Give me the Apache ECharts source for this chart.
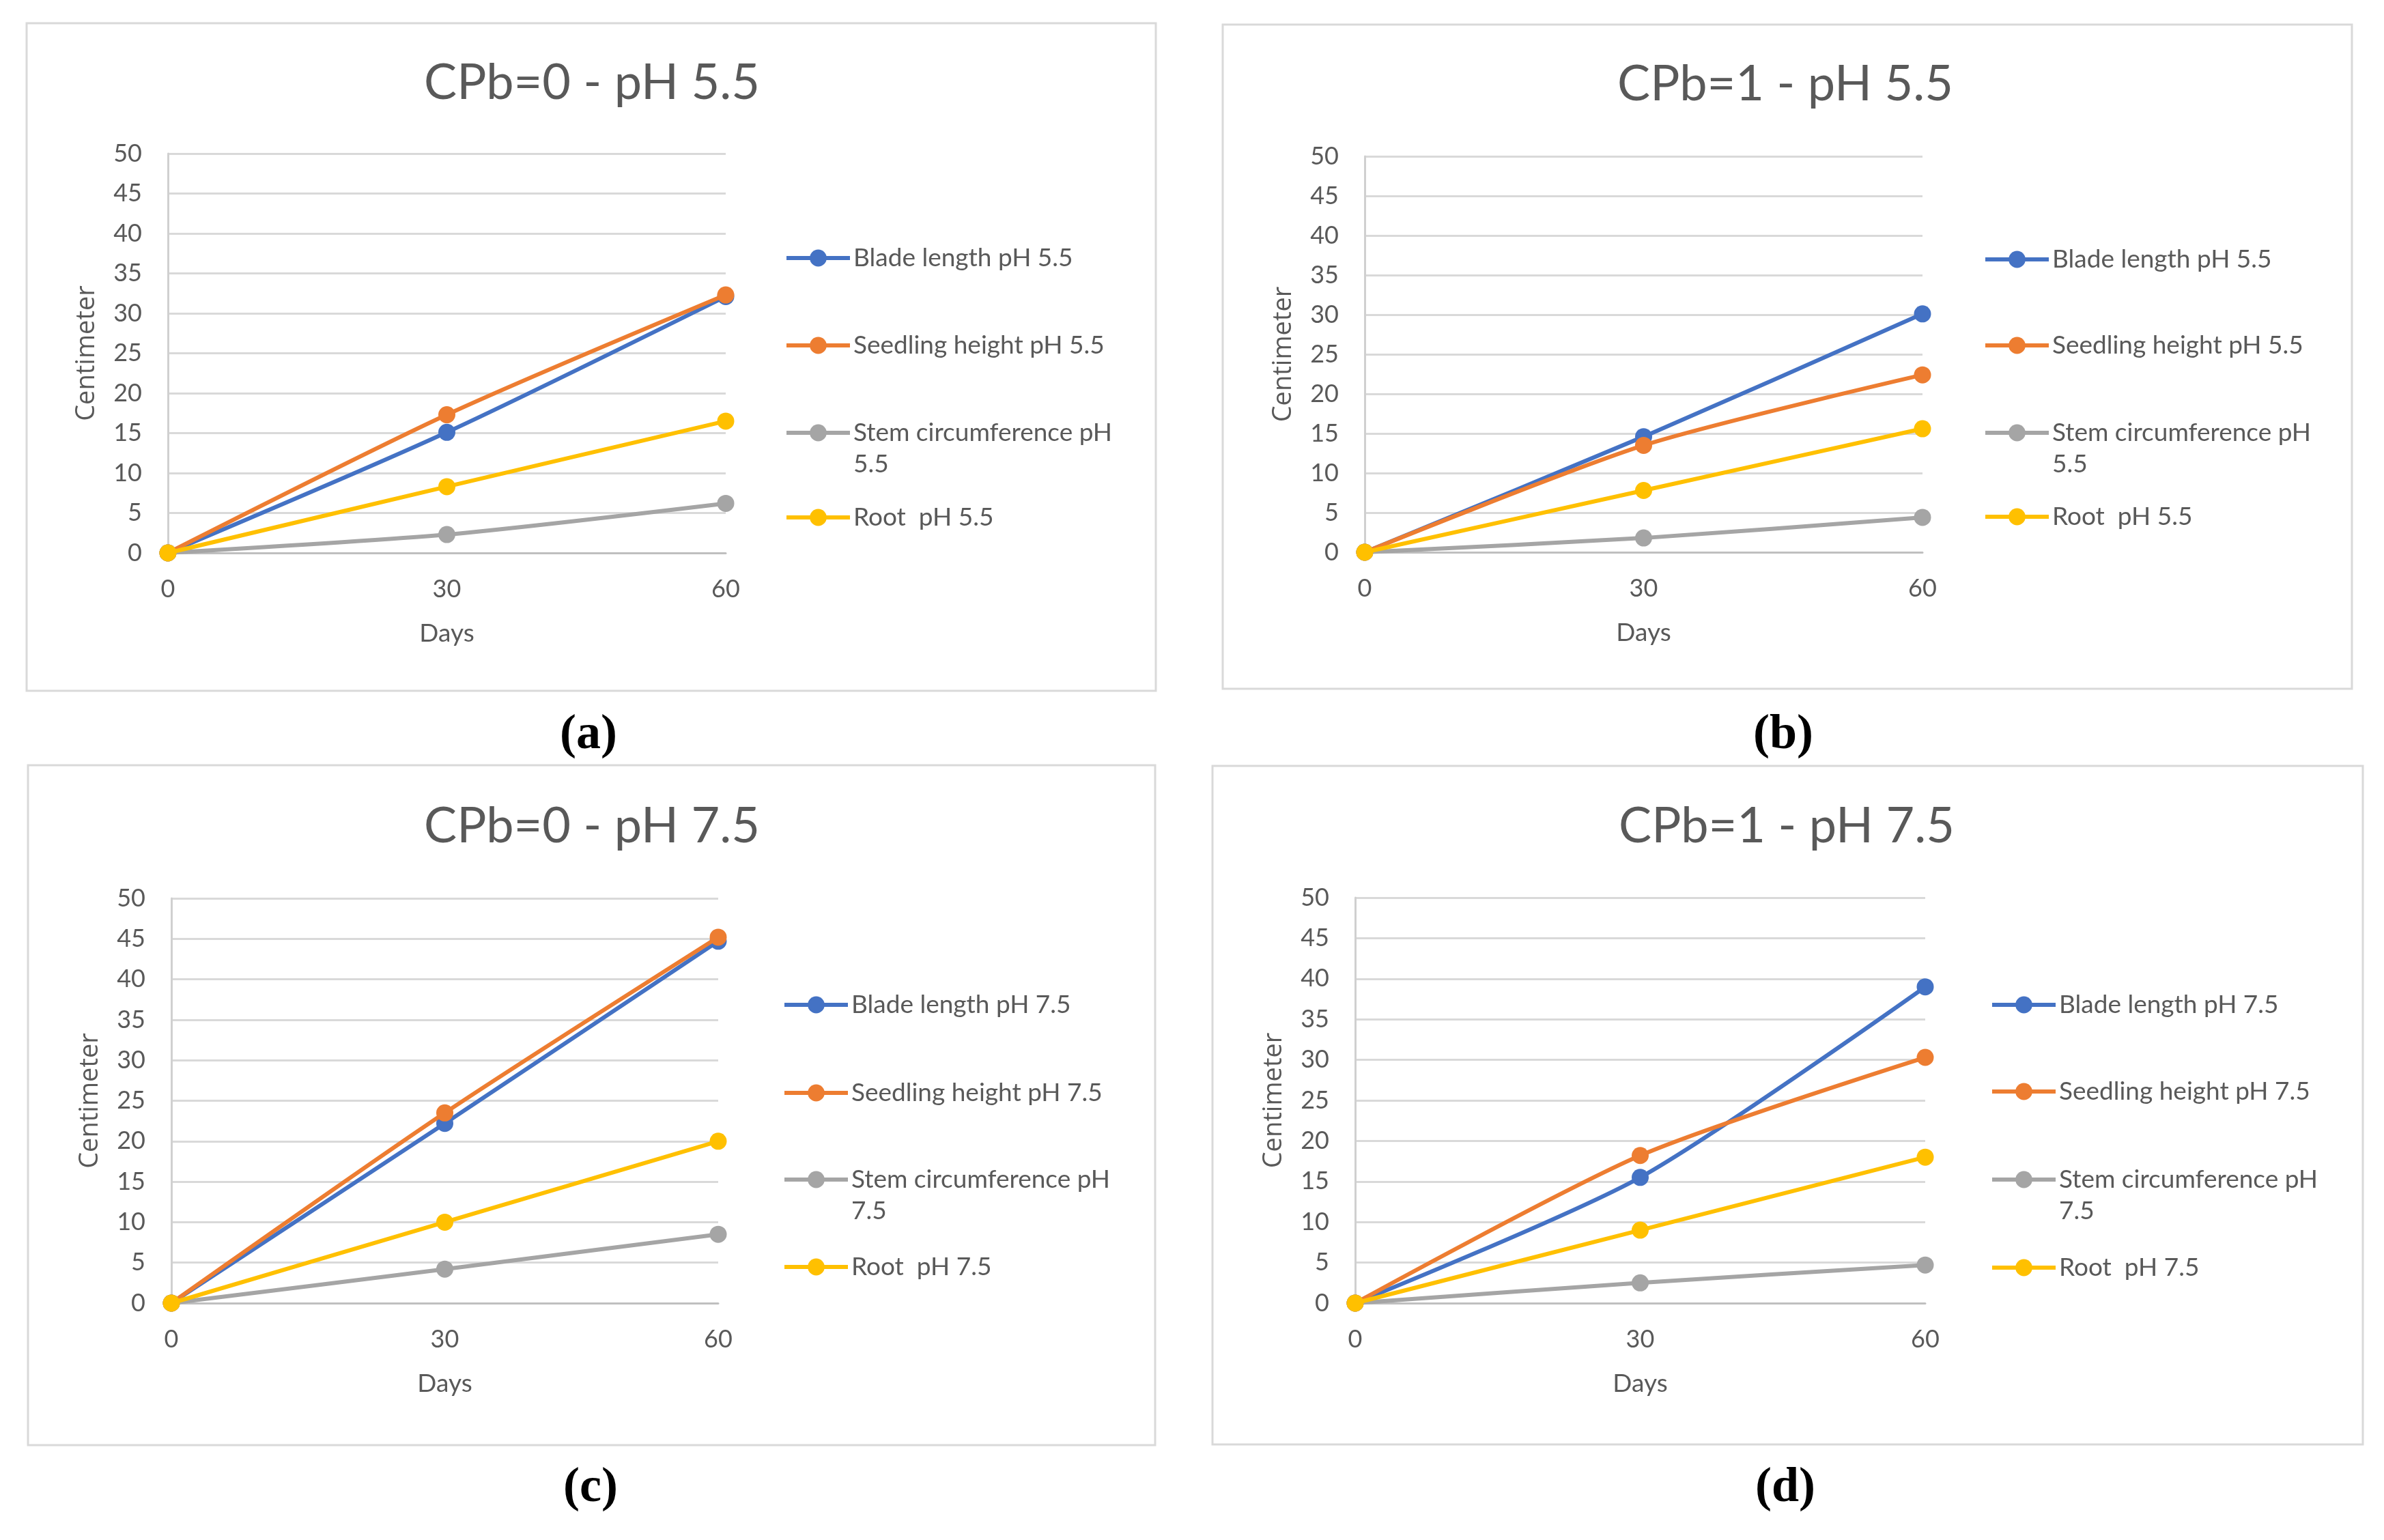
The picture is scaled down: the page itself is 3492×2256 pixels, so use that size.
<!DOCTYPE html>
<html>
<head>
<meta charset="utf-8">
<title>Seedling growth - CPb and pH</title>
<script src="https://cdn.jsdelivr.net/npm/echarts@6/dist/echarts.min.js"></script>
<style>
    html, body { margin: 0; padding: 0; background: #ffffff; }
    #main { width: 3492px; height: 2256px; }
</style>
</head>
<body>
<div id="main"></div>
<script>
// x categories (days)
var days = ['0', '30', '60'];

// (a) CPb=0 - pH 5.5
var bladeA    = [0, 15.1, 32.1];
var seedlingA = [0, 17.3, 32.3];
var stemA     = [0, 2.3, 6.2];
var rootA     = [0, 8.3, 16.5];

// (b) CPb=1 - pH 5.5
var bladeB    = [0, 14.6, 30.1];
var seedlingB = [0, 13.5, 22.4];
var stemB     = [0, 1.8, 4.4];
var rootB     = [0, 7.8, 15.6];

// (c) CPb=0 - pH 7.5
var bladeC    = [0, 22.2, 44.7];
var seedlingC = [0, 23.5, 45.2];
var stemC     = [0, 4.2, 8.5];
var rootC     = [0, 10.0, 20.0];

// (d) CPb=1 - pH 7.5
var bladeD    = [0, 15.5, 39.0];
var seedlingD = [0, 18.2, 30.3];
var stemD     = [0, 2.5, 4.7];
var rootD     = [0, 9.0, 18.0];

var titles   = ['CPb=0 - pH 5.5', 'CPb=1 - pH 5.5', 'CPb=0 - pH 7.5', 'CPb=1 - pH 7.5'];
var captions = ['(a)', '(b)', '(c)', '(d)'];
var names55  = ['Blade length pH 5.5', 'Seedling height pH 5.5', 'Stem circumference pH 5.5', 'Root  pH 5.5'];
var names75  = ['Blade length pH 7.5', 'Seedling height pH 7.5', 'Stem circumference pH 7.5', 'Root  pH 7.5'];
var colors   = ['#4472C4', '#ED7D31', '#A5A5A5', '#FFC000'];

var panelData  = [
    [bladeA, seedlingA, stemA, rootA],
    [bladeB, seedlingB, stemB, rootB],
    [bladeC, seedlingC, stemC, rootC],
    [bladeD, seedlingD, stemD, rootD]
];
var panelNames = [names55, names55, names75, names75];

// layout of the four panels (pixels)
var panels = [
    {box: [39, 34, 1654, 978],    grid: [246, 225, 817, 585],   title: [867, 122],   caption: [862, 1077],  legendX: 1149, legendY: [378, 506, 634, 758]},
    {box: [1791, 36, 1654, 973],  grid: [1999, 229, 817, 580],  title: [2615, 124],  caption: [2612, 1077], legendX: 2905, legendY: [380, 506, 634, 757]},
    {box: [41, 1121, 1651, 996],  grid: [251, 1316, 801, 593],  title: [867, 1211],  caption: [865, 2180],  legendX: 1146, legendY: [1472, 1601, 1728, 1856]},
    {box: [1776, 1122, 1685, 994], grid: [1985, 1315, 835, 594], title: [2617, 1211], caption: [2615, 2180], legendX: 2915, legendY: [1472, 1599, 1728, 1857]}
];

var textColor = '#595959';
var LINE_H = 46;

$init();

function $init() {
    var dom = document.getElementById('main');
    var chart = echarts.init(dom, null, {renderer: 'canvas'});

    var option = {
        backgroundColor: '#ffffff',
        animation: false,
        color: colors,
        title: [],
        legend: [],
        grid: [],
        xAxis: [],
        yAxis: [],
        series: [],
        graphic: []
    };

    panels.forEach(function (p, i) {
        // panel frame
        option.graphic.push({
            type: 'rect',
            silent: true,
            shape: {x: p.box[0], y: p.box[1], width: p.box[2], height: p.box[3]},
            style: {fill: 'none', stroke: '#D9D9D9', lineWidth: 3}
        });

        option.title.push({
            text: titles[i],
            left: p.title[0],
            top: p.title[1],
            padding: 0,
            textAlign: 'center',
            textVerticalAlign: 'middle',
            textStyle: {fontFamily: 'Lato', fontSize: 72, fontWeight: 'normal', color: textColor}
        });
        option.title.push({
            text: captions[i],
            left: p.caption[0],
            top: p.caption[1],
            padding: 0,
            textAlign: 'center',
            textVerticalAlign: 'middle',
            textStyle: {fontFamily: 'Liberation Serif', fontSize: 72, fontWeight: 'bold', color: '#000000'}
        });

        option.grid.push({left: p.grid[0], top: p.grid[1], width: p.grid[2], height: p.grid[3], containLabel: false});

        option.xAxis.push({
            type: 'category',
            gridIndex: i,
            data: days,
            boundaryGap: false,
            name: 'Days',
            nameLocation: 'middle',
            nameGap: 100,
            nameTextStyle: {fontFamily: 'Lato', fontSize: 37, color: textColor},
            axisLine: {show: true, lineStyle: {color: '#BFBFBF', width: 3}},
            axisTick: {show: false},
            axisLabel: {fontFamily: 'Lato', fontSize: 36, color: textColor, margin: 35},
            splitLine: {show: false}
        });

        option.yAxis.push({
            type: 'value',
            gridIndex: i,
            min: 0,
            max: 50,
            interval: 5,
            name: 'Centimeter',
            nameLocation: 'middle',
            nameRotate: 90,
            nameGap: 100,
            nameTextStyle: {fontFamily: 'Open Sans', fontSize: 38, color: textColor},
            axisLine: {show: true, lineStyle: {color: '#D0D0D0', width: 3}},
            axisTick: {show: false},
            axisLabel: {fontFamily: 'Lato', fontSize: 36, color: textColor, margin: 38},
            splitLine: {show: true, lineStyle: {color: '#D9D9D9', width: 3}}
        });

        panelData[i].forEach(function (values, k) {
            var name = panelNames[i][k];
            option.series.push({
                type: 'line',
                name: name,
                xAxisIndex: i,
                yAxisIndex: i,
                data: values,
                smooth: 0.25,
                symbol: 'circle',
                symbolSize: 25,
                lineStyle: {width: 6, color: colors[k]},
                itemStyle: {color: colors[k]},
                z: 2 + k
            });

            // one legend per item so the wrapped label keeps equal spacing;
            // the wrapped one gets an empty first line so its first text line sits on the icon
            var wrapped = name.indexOf('Stem') === 0;
            option.legend.push({
                orient: 'vertical',
                left: p.legendX,
                top: p.legendY[k] - (wrapped ? 1.5 * LINE_H : LINE_H / 2),
                padding: 0,
                itemWidth: 93,
                itemHeight: 31,
                selectedMode: false,
                data: [name],
                lineStyle: {width: 6},
                formatter: function (n) {
                    return n.indexOf('Stem') === 0 ? '\n' + n.replace(/ (\S+)$/, '\n$1') : n;
                },
                textStyle: {
                    fontFamily: 'Lato',
                    fontSize: 37,
                    color: textColor,
                    lineHeight: LINE_H
                }
            });
        });
    });

    if (option && typeof option === 'object') {
        chart.setOption(option);
    }

    window.addEventListener('resize', function () {
        chart.resize();
    });
}
</script>
</body>
</html>
